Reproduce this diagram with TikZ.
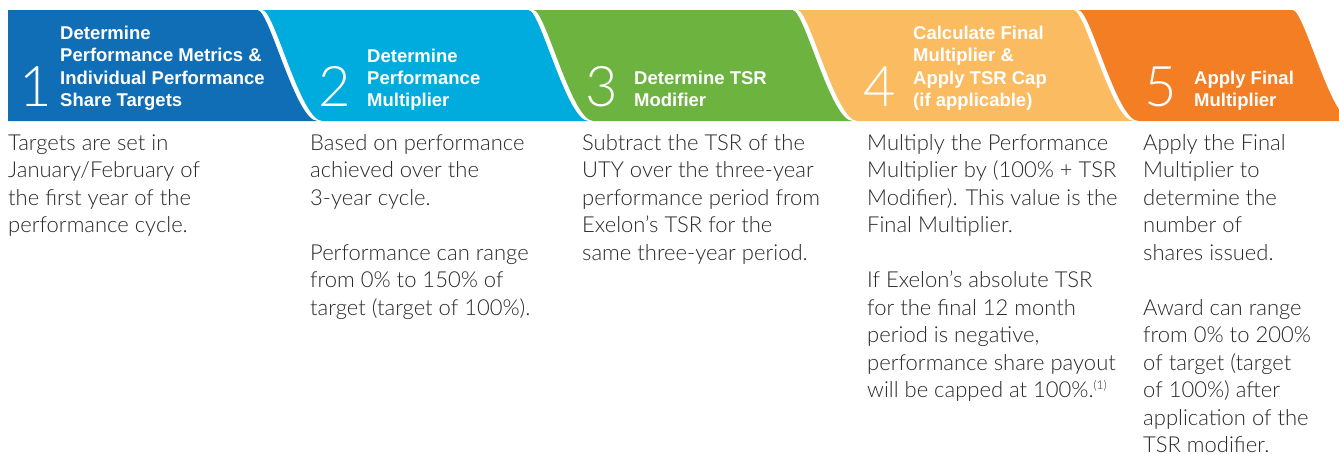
\documentclass[tikz,border=0pt]{standalone}
\usepackage{fontspec}
\IfFontExistsTF{Lato Light}{\newfontfamily\bodyfont{Lato Light}}{\newfontfamily\bodyfont{Lato}}
\IfFontExistsTF{Lato Light}{\newfontfamily\numfont{Lato Light}}{\newfontfamily\numfont{Lato}}
\newfontfamily\headfont{Liberation Sans}
\definecolor{cA}{RGB}{16,110,182}
\definecolor{cB}{RGB}{0,172,222}
\definecolor{cC}{RGB}{109,179,63}
\definecolor{cD}{RGB}{251,187,96}
\definecolor{cE}{RGB}{243,126,36}
\definecolor{bodygray}{RGB}{40,40,40}
\tikzset{
  headtxt/.style={anchor=base west,inner sep=0pt,text=white,font=\headfont\bfseries\fontsize{18.5}{22.4}\selectfont},
  numtxt/.style={anchor=base,inner sep=0pt,text=white,font=\numfont\fontsize{56}{56}\selectfont},
  bodytxt/.style={anchor=base west,inner sep=0pt,text=bodygray,font=\bodyfont\fontsize{22}{27.5}\selectfont},
}
\newcommand{\colbox}[1]{\parbox[t]{300pt}{\raggedright #1}}
\begin{document}
\begin{tikzpicture}[x=1pt,y=-1pt]
\useasboundingbox (0,0) rectangle (1339,453);
% segments
\fill[cA] (8,10) -- (257.5,10) .. controls (269.5,10) and (295.5,121) .. (317.5,121) -- (8,121) -- cycle;
\fill[cB] (262.5,10) -- (528.5,10) .. controls (540.5,10) and (566.5,121) .. (588.5,121) -- (322.5,121) .. controls (300.5,121) and (274.5,10) .. (262.5,10) -- cycle;
\fill[cC] (533.5,10) -- (792.5,10) .. controls (804.5,10) and (830.5,121) .. (852.5,121) -- (593.5,121) .. controls (571.5,121) and (545.5,10) .. (533.5,10) -- cycle;
\fill[cD] (797.5,10) -- (1073.5,10) .. controls (1085.5,10) and (1111.5,121) .. (1133.5,121) -- (857.5,121) .. controls (835.5,121) and (809.5,10) .. (797.5,10) -- cycle;
\fill[cE] (1078.5,10) -- (1292.5,10) .. controls (1304.5,10) and (1330.5,121) .. (1352.5,121) -- (1138.5,121) .. controls (1116.5,121) and (1090.5,10) .. (1078.5,10) -- cycle;
% numbers
\node[numtxt] (n1) at (36,106.7) {1};
\node[numtxt] (n2) at (335,106.7) {2};
\node[numtxt] (n3) at (602,106.7) {3};
\node[numtxt] (n4) at (880,106.7) {4};
\node[numtxt] (n5) at (1161,106.7) {5};
% headings
\node[headtxt] (h1) at (60,39.5) {\colbox{Determine\\Performance Metrics \&\\Individual Performance\\Share Targets}};
\node[headtxt] (h2) at (367,62) {\colbox{Determine\\Performance\\Multiplier}};
\node[headtxt] (h3) at (634,84.3) {\colbox{Determine TSR\\Modifier}};
\node[headtxt] (h4) at (913,39.5) {\colbox{Calculate Final\\Multiplier \&\\Apply TSR Cap\\(if applicable)}};
\node[headtxt] (h5) at (1194,84.3) {\colbox{Apply Final\\Multiplier}};
% body
\node[bodytxt] (b1) at (8,150) {\colbox{Targets are set in\\January/February of\\the first year of the\\performance cycle.}};
\node[bodytxt] (b2) at (310,150) {\colbox{Based on performance\\achieved over the\\3-year cycle.\\[27.5pt]Performance can range\\from 0\% to 150\% of\\target (target of 100\%).}};
\node[bodytxt] (b3) at (582,150) {\colbox{Subtract the TSR of the\\UTY over the three-year\\performance period from\\Exelon’s TSR for the\\same three-year period.}};
\node[bodytxt] (b4) at (867,150) {\colbox{Multiply the Performance\\Multiplier by (100\% + TSR\\Modifier). This value is the\\Final Multiplier.\\[27.5pt]If Exelon’s absolute TSR\\for the final 12 month\\period is negative,\\performance share payout\\will be capped at 100\%.\raisebox{8pt}{\fontsize{12}{12}\selectfont(1)}}};
\node[bodytxt] (b5) at (1143,150) {\colbox{Apply the Final\\Multiplier to\\determine the\\number of\\shares issued.\\[27.5pt]Award can range\\from 0\% to 200\%\\of target (target\\of 100\%) after\\application of the\\TSR modifier.}};
\end{tikzpicture}
\end{document}
